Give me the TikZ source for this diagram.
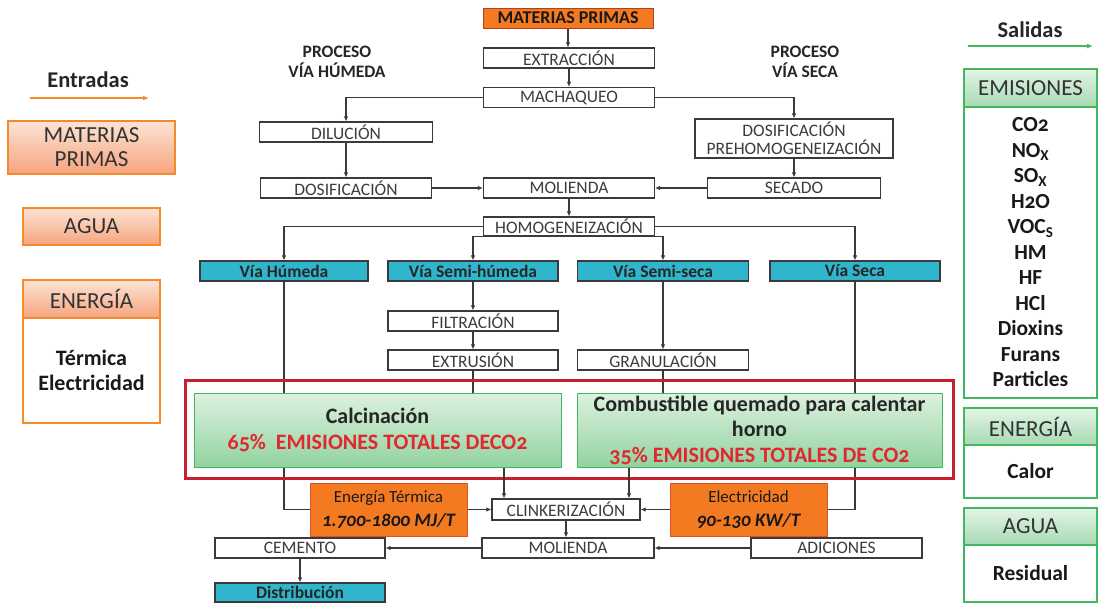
\documentclass[tikz,border=0pt]{standalone}
\usepackage{fontspec}
\setmainfont{Carlito}[Numbers=OldStyle]
\usetikzlibrary{arrows.meta,calc}
\definecolor{ln}{HTML}{3A3A3A}
\definecolor{tx}{HTML}{3C3C3C}
\definecolor{orf}{HTML}{F47A22}
\definecolor{ord}{HTML}{E0502A}
\definecolor{blf}{HTML}{2FB5CC}
\definecolor{grl}{HTML}{DDF1DF}
\definecolor{grd}{HTML}{92D3A0}
\definecolor{grb}{HTML}{43B75E}
\definecolor{redb}{HTML}{C8202F}
\definecolor{redt}{HTML}{E0282E}
\definecolor{pchl}{HTML}{FCE3D4}
\definecolor{pchd}{HTML}{F6A47E}
\definecolor{orb}{HTML}{F58A2C}
\definecolor{ghl}{HTML}{E4F4E6}
\definecolor{ghd}{HTML}{A6DAB2}
\pgfdeclarelayer{bg}
\pgfsetlayers{bg,main}
\tikzset{
  plain/.style={draw=ln, line width=1.1pt, fill=white, inner sep=0pt, text=tx, align=center,
    font=\fontsize{17.5}{18}\selectfont},
  bluebox/.style={draw=ln, line width=1.1pt, fill=blf, inner sep=0pt, text=black!85,
    font=\fontsize{17.5}{18}\selectfont\bfseries},
  orbox/.style={draw=ord, line width=1pt, fill=orf, inner sep=0pt, text=black!90, align=center,
    font=\fontsize{17}{24}\selectfont},
  gbox/.style={draw=grb, line width=1pt, top color=grl, bottom color=grd, inner sep=0pt,
    align=center, text=black!85, font=\fontsize{22}{25.5}\selectfont\bfseries},
  enthead/.style={draw=orb, line width=2pt, top color=pchl, bottom color=pchd, inner sep=0pt,
    align=center, text=black!80, font=\fontsize{23}{24}\selectfont},
  entbody/.style={draw=orb, line width=2pt, fill=white, inner sep=0pt, align=center,
    text=black!90, font=\fontsize{22}{25}\selectfont\bfseries},
  salhead/.style={draw=grb, line width=2pt, top color=ghl, bottom color=ghd, inner sep=0pt,
    align=center, text=black!80, font=\fontsize{23}{24}\selectfont},
  salbody/.style={draw=grb, line width=2pt, fill=white, inner sep=0pt, align=center,
    text=black!90, font=\fontsize{21.5}{25.5}\selectfont\bfseries},
  lbl/.style={inner sep=0pt, align=center, text=black!85, font=\fontsize{17.5}{20}\selectfont\bfseries},
  conn/.style={draw=ln, line width=1.2pt},
  arr/.style={conn, -{Latex[length=5pt,width=4.5pt]}},
}
\begin{document}
\begin{tikzpicture}[x=1pt,y=-1pt]
\useasboundingbox (0,0) rectangle (1099,603);

% ---------- top flow ----------
\node[orbox, font=\fontsize{18}{18}\selectfont\bfseries, draw=ord!80!black, minimum width=170, minimum height=20] (mp) at (568,18) {MATERIAS PRIMAS};
\node[plain, minimum width=171, minimum height=20] (ext) at (569,58) {EXTRACCIÓN};
\node[plain, minimum width=171, minimum height=20] (mach) at (569,97.5) {MACHAQUEO};
\node[plain, minimum width=173, minimum height=20] (dil) at (346,132) {DILUCIÓN};
\node[plain, minimum width=198, minimum height=39] (dosp) at (794,138.5) {DOSIFICACIÓN\\PREHOMOGENEIZACIÓN};
\node[plain, minimum width=171, minimum height=20] (dos) at (346,188) {DOSIFICACIÓN};
\node[plain, minimum width=171, minimum height=20] (mol) at (569,188) {MOLIENDA};
\node[plain, minimum width=173, minimum height=20] (sec) at (794,188) {SECADO};
\node[plain, minimum width=171, minimum height=19] (hom) at (569,226.5) {HOMOGENEIZACIÓN};

\node[lbl] (phum) at (337,62) {PROCESO\\VÍA HÚMEDA};
\node[lbl] (pseca) at (805,62) {PROCESO\\VÍA SECA};

\draw[arr] (mp.south) -- (mp.south |- ext.north);
\draw[arr] (ext) -- (mach);
\draw[arr] (mach.west) -| (dil.north);
\draw[arr] (mach.east) -| (dosp.north);
\draw[arr] (dil) -- (dos);
\draw[arr] (dosp) -- (sec);
\draw[arr] (dos) -- (mol);
\draw[arr] (sec) -- (mol);
\draw[arr] (mol) -- (hom);

% ---------- vias ----------
\node[bluebox, minimum width=168, minimum height=20] (vh) at (284,271) {Vía Húmeda};
\node[bluebox, minimum width=170, minimum height=20] (vsh) at (473,271) {Vía Semi-húmeda};
\node[bluebox, minimum width=171, minimum height=20] (vss) at (663,271) {Vía Semi-seca};
\node[bluebox, minimum width=170, minimum height=20] (vseca) at (855,271) {Vía Seca};

\draw[arr] (hom.west) -| (vh.north);
\draw[arr] (hom.east) -| (vseca.north);
\draw[arr] (hom.south) -| (vsh.north);
\draw[arr] (hom.south) -| (vss.north);

\node[plain, minimum width=170, minimum height=20] (filt) at (473,321) {FILTRACIÓN};
\node[plain, minimum width=170, minimum height=20] (extr) at (473,360) {EXTRUSIÓN};
\node[plain, minimum width=171, minimum height=20] (gran) at (663,360) {GRANULACIÓN};

\draw[arr] (vsh) -- (filt);
\draw[arr] (filt) -- (extr);
\draw[arr] (vss) -- (gran);

% ---------- red frame and green boxes ----------
\node[draw=redb, line width=3pt, inner sep=0pt, minimum width=768, minimum height=98] (frame) at (569,429) {};
\node[gbox, minimum width=367, minimum height=74] (g1) at (377.5,430)
  {Calcinación\\ \textcolor{redt}{65\%\ \ EMISIONES TOTALES DECO2}};
\node[gbox, minimum width=365, minimum height=74] (g2) at (759.5,430)
  {Combustible quemado para calentar\\ horno\\ \textcolor{redt}{35\% EMISIONES TOTALES DE CO2}};

% ---------- clinker section ----------
\node[plain, minimum width=148, minimum height=21] (clk) at (566,509.5) {CLINKERIZACIÓN};
\node[orbox, minimum width=157, minimum height=53] (et) at (388.5,509.5)
  {Energía Térmica\\{\fontsize{19}{24}\selectfont\bfseries\itshape 1.700-1800 MJ/T}};
\node[orbox, minimum width=157, minimum height=53] (el) at (748.5,509.5)
  {Electricidad\\{\fontsize{19}{24}\selectfont\bfseries\itshape 90-130 KW/T}};
\coordinate (k1) at ([xshift=-62]clk.north);
\coordinate (k2) at ([xshift=63]clk.north);

\begin{pgfonlayer}{bg}
\draw[conn] (extr.south) -- (extr.south |- g1.north);
\draw[conn] (gran.south) -- (gran.south |- g2.north);
\draw[conn] (vh.south) |- (et.west);
\draw[conn] (vseca.south) |- (el.east);
\end{pgfonlayer}

\draw[arr] (g1.south -| k1) -- (k1);
\draw[arr] (g2.south -| k2) -- (k2);
\draw[arr] (et) -- (clk);
\draw[arr] (el) -- (clk);

\node[plain, minimum width=172, minimum height=20] (mol2) at (568,548) {MOLIENDA};
\node[plain, minimum width=170, minimum height=20] (cem) at (300,548) {CEMENTO};
\node[plain, minimum width=171, minimum height=20] (adi) at (836.5,548) {ADICIONES};
\node[bluebox, minimum width=170, minimum height=19] (dist) at (300,592.5) {Distribución};

\draw[arr] (clk.south) -- (clk.south |- mol2.north);
\draw[arr] (mol2) -- (cem);
\draw[arr] (adi) -- (mol2);
\draw[arr] (cem) -- (dist);

% ---------- Entradas ----------
\node[inner sep=0pt, text=black!85, font=\fontsize{22.5}{24}\selectfont\bfseries] (ent) at (88,80) {Entradas};
\coordinate (ea1) at (30,98);
\coordinate (ea2) at (149,98);
\draw[orb, line width=2pt, -{Latex[length=6pt,width=5pt]}] (ea1) -- (ea2);
\node[enthead, minimum width=167, minimum height=53, font=\fontsize{23}{24}\selectfont] (lmp) at (91.5,147.5) {MATERIAS\\PRIMAS};
\node[enthead, minimum width=137, minimum height=37] (lag) at (91.5,226.5) {AGUA};
\node[entbody, minimum width=137, minimum height=105] (lenb) at (91.5,370.5) {Térmica\\Electricidad};
\node[enthead, minimum width=137, minimum height=38] (lenh) at (91.5,299) {ENERGÍA};

% ---------- Salidas ----------
\node[inner sep=0pt, text=black!85, font=\fontsize{22.5}{24}\selectfont\bfseries] (sal) at (1030,30) {Salidas};
\coordinate (sa1) at (968,46);
\coordinate (sa2) at (1093,46);
\draw[grb, line width=2pt, -{Latex[length=6pt,width=5pt]}] (sa1) -- (sa2);
\node[salbody, minimum width=133, minimum height=291] (remb) at (1030.5,252.5)
  {CO2\\NO\textsubscript{X}\\SO\textsubscript{X}\\H2O\\VOC\textsubscript{S}\\HM\\HF\\HCl\\Dioxins\\Furans\\Particles};
\node[salhead, minimum width=133, minimum height=38] (remh) at (1030.5,88) {EMISIONES};
\node[salbody, minimum width=133, minimum height=53] (renb) at (1030.5,471.5) {Calor};
\node[salhead, minimum width=133, minimum height=37] (renh) at (1030.5,426.5) {ENERGÍA};
\node[salbody, minimum width=133, minimum height=57] (ragb) at (1030.5,573.5) {Residual};
\node[salhead, minimum width=133, minimum height=37] (ragh) at (1030.5,526.5) {AGUA};
\end{tikzpicture}
\end{document}
